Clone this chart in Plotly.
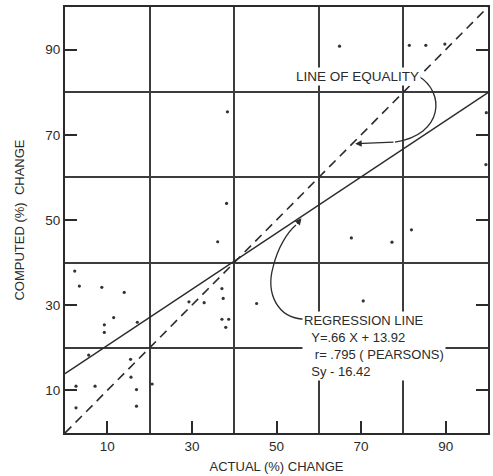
import plotly.graph_objects as go

# ---- data ----
actual = [2.3, 3.4, 8.7, 14.0, 11.5, 9.3, 9.3, 17.1, 5.6, 15.5, 15.6, 2.6, 7.1, 16.9,
          2.6, 16.9, 20.6, 29.3, 32.9, 37.1, 37.4, 37.1, 38.7, 38.0, 38.4, 38.2, 36.1,
          67.7, 77.3, 81.9, 45.3, 70.5, 64.9, 81.4, 85.3, 89.8, 99.6, 99.5]
computed = [38.0, 34.5, 34.2, 33.0, 27.1, 25.4, 23.6, 26.0, 18.3, 17.3, 13.1, 11.0, 11.0, 10.2,
            5.9, 6.3, 11.5, 30.8, 30.6, 33.9, 31.6, 26.7, 26.7, 24.8, 75.4, 53.9, 44.9,
            45.8, 44.8, 47.7, 30.4, 31.0, 90.8, 91.0, 91.0, 91.3, 75.2, 63.0]

line_x = [0, 100]
slope = 0.66
intercept = 13.92
reg_y = [slope * v + intercept for v in line_x]
equality_y = list(line_x)

tick_vals = [10, 30, 50, 70, 90]
tick_text = ["10", "30", "50", "70", "90"]

INK = "#2b2b2b"
GRID = "#3c3c3c"
FONT = "Liberation Sans, Arial, sans-serif"

fig = go.Figure()

fig.add_trace(go.Scatter(x=line_x, y=equality_y, mode="lines",
                         line=dict(color=INK, width=1.6, dash="9px,6px"),
                         hoverinfo="skip", showlegend=False))
fig.add_trace(go.Scatter(x=line_x, y=reg_y, mode="lines",
                         line=dict(color=INK, width=1.4),
                         hoverinfo="skip", showlegend=False))
fig.add_trace(go.Scatter(x=actual, y=computed, mode="markers",
                         marker=dict(color="#333333", size=3.2),
                         showlegend=False))

# curved callout arrows
fig.add_shape(type="path", xref="x", yref="y",
              path="M 83.5,83.8 C 90,80 89.5,70 78,68.3",
              line=dict(color=INK, width=1.3))
fig.add_annotation(x=68.6, y=67.9, ax=78, ay=68.3, xref="x", yref="y",
                   axref="x", ayref="y", text="", showarrow=True,
                   arrowhead=2, arrowsize=1, arrowwidth=1.3, arrowcolor=INK)

fig.add_shape(type="path", xref="x", yref="y",
              path="M 56.5,26.7 C 50,27 47.5,33 49.2,39 C 50.3,43.5 52.5,47 54.6,48.8",
              line=dict(color=INK, width=1.3))
fig.add_annotation(x=55.9, y=50.4, ax=54.6, ay=48.8, xref="x", yref="y",
                   axref="x", ayref="y", text="", showarrow=True,
                   arrowhead=2, arrowsize=1, arrowwidth=1.3, arrowcolor=INK)

fig.add_annotation(x=69.2, y=83.8, xref="x", yref="y", text="LINE OF EQUALITY",
                   showarrow=False, bgcolor="white", borderpad=1,
                   font=dict(family=FONT, size=13.5, color=INK))

fig.add_annotation(x=56.0, y=28.6, xref="x", yref="y", xanchor="left", yanchor="top",
                   align="left", showarrow=False, bgcolor="white", borderpad=1,
                   text=("REGRESSION LINE<br>"
                         "\u00a0\u00a0Y=.66 X + 13.92<br>"
                         "\u00a0\u00a0\u00a0r= .795 ( PEARSONS)<br>"
                         "\u00a0\u00a0Sy - 16.42"),
                   font=dict(family=FONT, size=13, color=INK))

axis_common = dict(
    range=[0, 100], tickmode="array", tickvals=tick_vals, ticktext=tick_text,
    ticks="inside", ticklen=12, tickwidth=1.8, tickcolor=INK,
    showgrid=False, zeroline=False,
    showline=True, linecolor=INK, linewidth=2,
    tickfont=dict(family=FONT, size=13.5, color=INK),
    minor=dict(tickmode="linear", tick0=0, dtick=20, showgrid=True,
               gridcolor=GRID, gridwidth=1.6, ticks=""),
)

fig.update_xaxes(**axis_common, mirror=True,
                 title=dict(text="ACTUAL (%) CHANGE", standoff=9,
                            font=dict(family=FONT, size=13, color=INK)))
fig.update_yaxes(**axis_common, mirror="ticks",
                 title=dict(text="COMPUTED (%)\u00a0\u00a0CHANGE", standoff=18,
                            font=dict(family=FONT, size=13, color=INK)))

fig.update_layout(
    width=493, height=476,
    margin=dict(l=65, r=3, t=7, b=43),
    plot_bgcolor="white", paper_bgcolor="white",
    showlegend=False,
)

fig.write_html("out.html")
